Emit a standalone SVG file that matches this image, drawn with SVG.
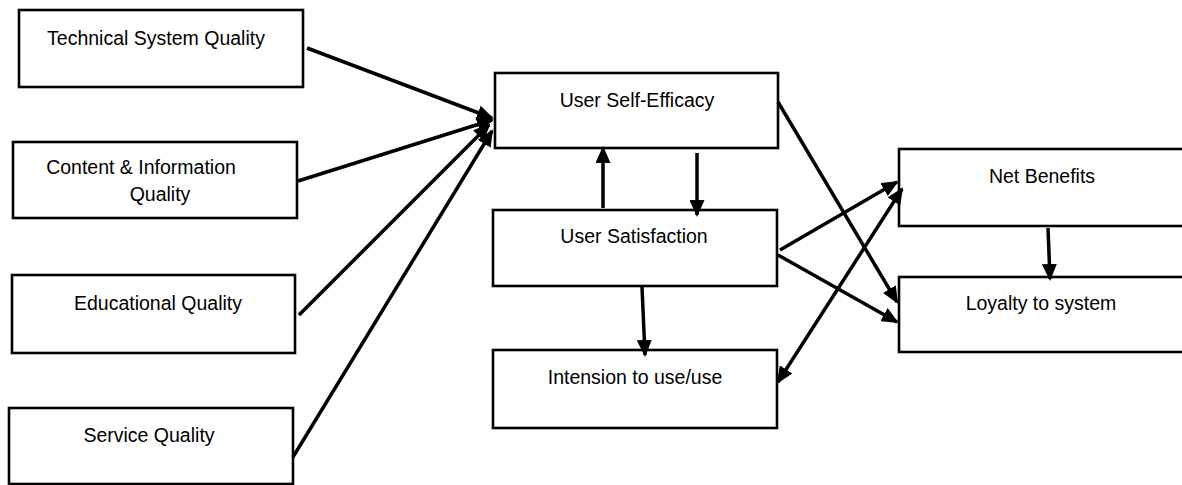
<svg xmlns="http://www.w3.org/2000/svg" width="1182" height="485" viewBox="0 0 1182 485">
<style>
.box{fill:#fff;stroke:#000;stroke-width:2.6}
.lbl{font-family:"Liberation Sans",Arial,sans-serif;font-size:19.5px;fill:#000;text-anchor:middle}
.edge{stroke:#000;stroke-width:3.5;fill:none}
</style>
<defs>
<marker id="ah" viewBox="0 0 17 15" refX="15" refY="7.5" markerWidth="17" markerHeight="15" markerUnits="userSpaceOnUse" orient="auto-start-reverse">
<path d="M0,0 L17,7.5 L0,15 z" fill="#000"/>
</marker>
</defs>
<rect width="1182" height="485" fill="#fff"/>
<g id="technical"><rect class="box" x="19" y="10" width="284" height="77"/><text class="lbl" x="156" y="45">Technical System Quality</text></g>
<g id="content"><rect class="box" x="13" y="142" width="284" height="76"/><text class="lbl" x="141" y="174">Content &amp; Information</text><text class="lbl" x="160" y="201">Quality</text></g>
<g id="educational"><rect class="box" x="12" y="275" width="283" height="78"/><text class="lbl" x="158" y="310">Educational Quality</text></g>
<g id="service"><rect class="box" x="9" y="408" width="284" height="76"/><text class="lbl" x="149" y="442">Service Quality</text></g>
<g id="selfefficacy"><rect class="box" x="495" y="73" width="283" height="75"/><text class="lbl" x="637" y="107">User Self-Efficacy</text></g>
<g id="satisfaction"><rect class="box" x="493" y="210" width="284" height="76"/><text class="lbl" x="634" y="243">User Satisfaction</text></g>
<g id="intension"><rect class="box" x="493" y="350" width="284" height="78"/><text class="lbl" x="635" y="384">Intension to use/use</text></g>
<g id="netbenefits"><rect class="box" x="899" y="149" width="295" height="77"/><text class="lbl" x="1042" y="183">Net Benefits</text></g>
<g id="loyalty"><rect class="box" x="899" y="277" width="295" height="75"/><text class="lbl" x="1041" y="310">Loyalty to system</text></g>
<g id="connectors">
<line class="edge" x1="307" y1="48" x2="492" y2="118" marker-end="url(#ah)"/>
<line class="edge" x1="298" y1="181" x2="492" y2="120" marker-end="url(#ah)"/>
<line class="edge" x1="299" y1="315" x2="489" y2="125" marker-end="url(#ah)"/>
<line class="edge" x1="293" y1="457" x2="492" y2="131" marker-end="url(#ah)"/>
<line class="edge" x1="603" y1="208" x2="603" y2="148" marker-end="url(#ah)"/>
<line class="edge" x1="697" y1="153" x2="697" y2="215" marker-end="url(#ah)"/>
<line class="edge" x1="642" y1="287" x2="645" y2="355" marker-end="url(#ah)"/>
<line class="edge" x1="778" y1="102" x2="897" y2="302" marker-end="url(#ah)"/>
<line class="edge" x1="780" y1="250" x2="897" y2="182" marker-end="url(#ah)"/>
<line class="edge" x1="778" y1="255" x2="897" y2="322" marker-end="url(#ah)"/>
<line class="edge" x1="778" y1="382" x2="902" y2="189" marker-start="url(#ah)" marker-end="url(#ah)"/>
<line class="edge" x1="1048" y1="228" x2="1050" y2="279" marker-end="url(#ah)"/>
</g>
</svg>
